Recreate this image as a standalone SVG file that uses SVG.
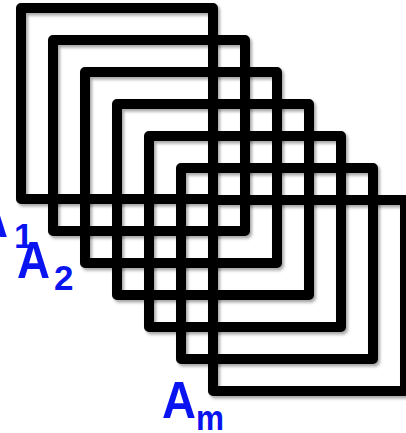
<svg xmlns="http://www.w3.org/2000/svg" width="406" height="433" viewBox="0 0 406 433">
<style>
.sq{fill:none;stroke:#000;stroke-width:10;stroke-linejoin:round;filter:url(#sh)}
.lbl{fill:#0a14f0;font-family:"Liberation Sans","DejaVu Sans",sans-serif;font-weight:bold}
.big{font-size:52px}
.sub{font-size:35px}
</style>
<defs>
<filter id="sh" x="-10%" y="-10%" width="130%" height="130%">
<feDropShadow dx="2" dy="2.5" stdDeviation="1.5" flood-color="#000" flood-opacity="0.35"/>
</filter>
</defs>
<rect width="406" height="433" fill="#fff"/>
<g id="squares">
<g id="A1"><rect class="sq" x="21" y="8" width="192" height="191"/></g>
<g id="A2"><rect class="sq" x="53" y="40" width="192" height="191"/></g>
<g id="A3"><rect class="sq" x="85" y="72" width="192" height="191"/></g>
<g id="A4"><rect class="sq" x="117" y="104" width="192" height="191"/></g>
<g id="A5"><rect class="sq" x="149" y="136" width="192" height="191"/></g>
<g id="A6"><rect class="sq" x="181" y="168" width="192" height="191"/></g>
<g id="Am"><rect class="sq" x="213" y="200" width="192" height="191"/></g>
</g>
<g id="labels">
<text class="lbl big" x="-25" y="237" textLength="33" lengthAdjust="spacingAndGlyphs">A</text>
<text class="lbl sub" x="14" y="248">1</text>
<text class="lbl big" x="17" y="278" textLength="33" lengthAdjust="spacingAndGlyphs">A</text>
<text class="lbl sub" x="54" y="290">2</text>
<text class="lbl big" x="162" y="418" textLength="34" lengthAdjust="spacingAndGlyphs">A</text>
<text class="lbl sub" x="196" y="430" textLength="28" lengthAdjust="spacingAndGlyphs">m</text>
</g>
</svg>
